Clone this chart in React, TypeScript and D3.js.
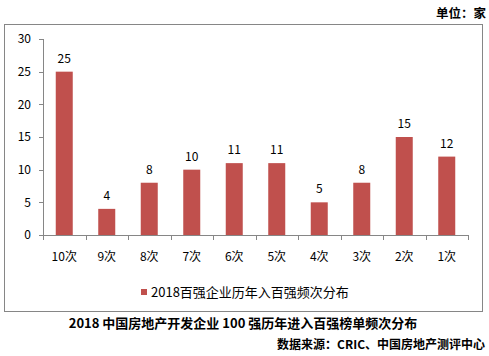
import React from "react";
import * as d3 from "d3";

const categories = ["10次", "9次", "8次", "7次", "6次", "5次", "4次", "3次", "2次", "1次"];
const values = [25, 4, 8, 10, 11, 11, 5, 8, 15, 12];
const yTicks = [0, 5, 10, 15, 20, 25, 30];
const seriesName = "2018百强企业历年入百强频次分布";
const unitText = "单位：家";
const captionText = "2018 中国房地产开发企业 100 强历年进入百强榜单频次分布";
const sourceText = "数据来源：CRIC、中国房地产测评中心";

const W = 489;
const H = 356;
const FONT = "'Noto Sans CJK SC', 'DejaVu Sans', sans-serif";
const BAR = "#C0504D";
const AXIS = "#868686";

export default function App() {
  const x = d3.scaleBand<string>().domain(categories).range([43, 468]).paddingInner(0.6).paddingOuter(0.3);
  const band = d3.scaleBand<string>().domain(categories).range([43, 468]);
  const y = d3.scaleLinear().domain([0, 30]).range([235, 39]);

  return (
    <svg width={W} height={H} style={{ position: "absolute", left: 0, top: 0 }} fontFamily={FONT}>
      <rect x={0} y={0} width={W} height={H} fill="#fff" />
      <text x={486} y={18} textAnchor="end" fontSize={12.5} fontWeight="bold" fill="#000">{unitText}</text>
      <rect x={4.5} y={24.5} width={478} height={287} fill="#fff" stroke={AXIS} strokeWidth={1} />
      {/* y axis */}
      <line x1={43.5} x2={43.5} y1={y(30)} y2={y(0)} stroke={AXIS} />
      {yTicks.map((t) => (
        <g key={t}>
          <line x1={39} x2={43.5} y1={Math.round(y(t)) + 0.5} y2={Math.round(y(t)) + 0.5} stroke={AXIS} />
          <text x={31} y={y(t)} dy="0.35em" textAnchor="end" fontSize={12} fill="#000">{t}</text>
        </g>
      ))}
      {/* bars */}
      {categories.map((c, i) => (
        <g key={c}>
          <rect x={x(c)} y={y(values[i])} width={x.bandwidth()} height={y(0) - y(values[i])} fill={BAR} />
          <text x={(x(c) as number) + x.bandwidth() / 2} y={y(values[i]) - 9} textAnchor="middle" fontSize={12} fill="#000">{values[i]}</text>
        </g>
      ))}
      {/* x axis */}
      <line x1={43} x2={468} y1={235.5} y2={235.5} stroke={AXIS} />
      {[...categories.map((c) => band(c) as number), 468].map((t, i) => (
        <line key={i} x1={Math.round(t) + 0.5} x2={Math.round(t) + 0.5} y1={235} y2={240} stroke={AXIS} />
      ))}
      {categories.map((c) => (
        <text key={c} x={(band(c) as number) + band.bandwidth() / 2} y={257} dy="0.35em" textAnchor="middle" fontSize={12} fill="#000">{c}</text>
      ))}
      {/* legend */}
      <rect x={141} y={289} width={6} height={6} fill={BAR} />
      <text x={151} y={292} dy="0.35em" fontSize={13} fill="#000">{seriesName}</text>
      {/* caption */}
      <text x={243} y={323} dy="0.35em" textAnchor="middle" fontSize={13} fontWeight="bold" fill="#000">{captionText}</text>
      <text x={485} y={345} dy="0.35em" textAnchor="end" fontSize={12} fontWeight="bold" fill="#000">{sourceText}</text>
    </svg>
  );
}
